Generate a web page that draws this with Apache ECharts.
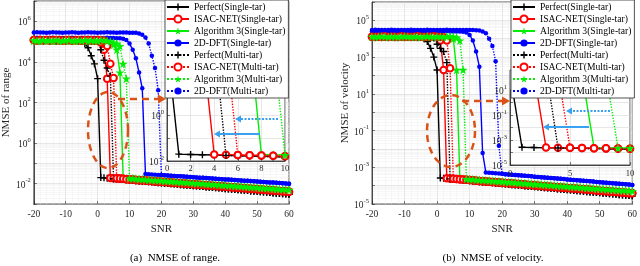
<!DOCTYPE html>
<html><head><meta charset="utf-8">
<script src="https://cdn.jsdelivr.net/npm/echarts@6/dist/echarts.min.js"></script>
<style>html,body{margin:0;padding:0;background:#fff}#c{width:640px;height:266px}</style>
</head><body><div id="c"></div><script>
const FONT = 'Liberation Serif';
const snr = [-20,-19,-18,-17,-16,-15,-14,-13,-12,-11,-10,-9,-8,-7,-6,-5,-4,-3,-2,-1,0,1,2,3,4,5,6,7,8,9,10,11,12,13,14,15,16,17,18,19,20,21,22,23,24,25,26,27,28,29,30,31,32,33,34,35,36,37,38,39,40,41,42,43,44,45,46,47,48,49,50,51,52,53,54,55,56,57,58,59,60];
const names = ['Perfect(Single-tar)','ISAC-NET(Single-tar)','Algorithm 3(Single-tar)','2D-DFT(Single-tar)','Perfect(Multi-tar)','ISAC-NET(Multi-tar)','Algorithm 3(Multi-tar)','2D-DFT(Multi-tar)'];
const rangeTicks = [-2,0,2,4,6];
const velTicks = [-5,-3,-1,1,3,5];

// ---------- NMSE of range: values before the error floor (SNR -20 ...) ----------
const rangePerfectSingleHead = [1.2e5,1.1e5,1.2e5,1.15e5,1.2e5, 1.1e5,1.2e5,1.2e5,1.1e5,1.15e5, 1.2e5,1.1e5,1.2e5,1.15e5,1.1e5, 1.0e5,8e4,5e4,2e4,8e3,1.5e3];
const rangePerfectMultiHead = [1.2e5,1.2e5,1.1e5,1.2e5,1.15e5, 1.2e5,1.2e5,1.1e5,1.2e5,1.2e5, 1.15e5,1.2e5,1.1e5,1.2e5,1.2e5, 1.15e5,1.1e5,1.2e5,1.15e5,1.1e5, 1.3e5,4e4,1.2e4,5e3,2e3];
const rangeIsacSingleHead = [1.2e5,1.15e5,1.2e5,1.1e5,1.2e5, 1.2e5,1.15e5,1.1e5,1.2e5,1.2e5, 1.1e5,1.2e5,1.15e5,1.2e5,1.1e5, 1.2e5,1.2e5,1.15e5,1.1e5,1.2e5, 1.1e5,9e4,4e4,1.5e3];
const rangeIsacMultiHead = [1.2e5,1.1e5,1.2e5,1.15e5,1.2e5, 1.1e5,1.2e5,1.2e5,1.15e5,1.1e5, 1.2e5,1.2e5,1.1e5,1.15e5,1.2e5, 1.1e5,1.2e5,1.15e5,1.2e5,1.1e5, 1.2e5,1.15e5,1.1e5,6e4,8e3,1.6e3];
const rangeAlgSingleHead = [1.1e5,1.15e5,1.1e5,1.2e5,1.1e5, 1.15e5,1.1e5,1.1e5,1.2e5,1.1e5, 1.15e5,1.1e5,1.2e5,1.1e5,1.1e5, 1.15e5,1.2e5,1.1e5,1.1e5,1.15e5, 1.1e5,1.2e5,1.1e5,1.15e5,1.0e5, 7e4,4e4,3e3];
const rangeAlgMultiHead = [1.15e5,1.1e5,1.1e5,1.2e5,1.1e5, 1.15e5,1.1e5,1.2e5,1.1e5,1.1e5, 1.15e5,1.2e5,1.1e5,1.1e5,1.15e5, 1.1e5,1.2e5,1.1e5,1.15e5,1.1e5, 1.1e5,1.2e5,1.15e5,1.1e5,1.0e5, 9e4,8e4,6e4,8e3,1.5e3];
const rangeDftSingleHead = [1.5e5,1.55e5,1.5e5,1.5e5,1.45e5, 1.5e5,1.55e5,1.5e5,1.5e5,1.45e5, 1.5e5,1.5e5,1.55e5,1.5e5,1.45e5, 1.5e5,1.5e5,1.55e5,1.5e5,1.5e5, 1.45e5,1.5e5,1.5e5,1.55e5,1.5e5, 1.5e5,1.45e5,1.45e5, 1.4e5,1.2e5,8e4,4e4,1.5e4,3e3,5e2];
const rangeDftMultiHead = [2.8e5,2.9e5,2.8e5,2.8e5,2.75e5, 2.8e5,2.9e5,2.8e5,2.8e5,2.75e5, 2.8e5,2.8e5,2.9e5,2.8e5,2.75e5, 2.8e5,2.8e5,2.9e5,2.8e5,2.8e5, 2.75e5,2.8e5,2.8e5,2.9e5,2.8e5, 2.8e5,2.75e5,2.8e5,2.8e5,2.8e5, 2.75e5,2.75e5, 2.7e5,2.5e5,2.2e5,1.6e5,8e4,2e4,5e3,4e2];
// ---------- NMSE of range: error floors (SNR 0..60; 2D-DFT from SNR 15) ----------
const rangePerfectTail = [0.0206,0.0200,0.0194,0.0188,0.0182,0.0176,0.0170,0.0165,0.0160,0.0155,0.0150,0.0145,0.0140,0.0136,0.0132,0.0128,0.0124,0.0120,0.0116,0.0112,0.0109,0.0105,0.0102,0.0099,0.0096,0.0093,0.0090,0.0087,0.0084,0.0081,0.0079,0.0076,0.0074,0.0072,0.0069,0.0067,0.0065,0.0063,0.0061,0.0059,0.0057,0.0055,0.0054,0.0052,0.0050,0.0049,0.0047,0.0046,0.0044,0.0043,0.0042,0.0040,0.0039,0.0038,0.0037,0.0035,0.0034,0.0033,0.0032,0.0031,0.0030];
const rangeIsacTail = [0.0216,0.0210,0.0204,0.0199,0.0193,0.0188,0.0183,0.0178,0.0173,0.0168,0.0163,0.0159,0.0154,0.0150,0.0146,0.0142,0.0138,0.0134,0.0130,0.0127,0.0123,0.0120,0.0117,0.0113,0.0110,0.0107,0.0104,0.0102,0.0099,0.0096,0.0093,0.0091,0.0088,0.0086,0.0084,0.0081,0.0079,0.0077,0.0075,0.0073,0.0071,0.0069,0.0067,0.0065,0.0063,0.0061,0.0060,0.0058,0.0056,0.0055,0.0053,0.0052,0.0050,0.0049,0.0048,0.0046,0.0045,0.0044,0.0043,0.0041,0.0040];
const rangeAlgTail = [0.0236,0.0230,0.0224,0.0218,0.0213,0.0207,0.0202,0.0197,0.0192,0.0187,0.0182,0.0178,0.0173,0.0169,0.0165,0.0160,0.0156,0.0152,0.0148,0.0145,0.0141,0.0137,0.0134,0.0130,0.0127,0.0124,0.0121,0.0118,0.0115,0.0112,0.0109,0.0106,0.0103,0.0101,0.0098,0.0096,0.0093,0.0091,0.0089,0.0086,0.0084,0.0082,0.0080,0.0078,0.0076,0.0074,0.0072,0.0070,0.0068,0.0067,0.0065,0.0063,0.0062,0.0060,0.0059,0.0057,0.0056,0.0054,0.0053,0.0052,0.0050];
const rangeDftTail = [0.0300,0.0293,0.0286,0.0279,0.0272,0.0266,0.0259,0.0253,0.0247,0.0241,0.0235,0.0230,0.0224,0.0219,0.0213,0.0208,0.0203,0.0198,0.0194,0.0189,0.0184,0.0180,0.0176,0.0171,0.0167,0.0163,0.0159,0.0156,0.0152,0.0148,0.0145,0.0141,0.0138,0.0134,0.0131,0.0128,0.0125,0.0122,0.0119,0.0116,0.0113,0.0110,0.0108,0.0105,0.0103,0.0100];

// ---------- NMSE of velocity: values before the error floor ----------
const velPerfectSingleHead = [1.3e4,1.25e4,1.3e4,1.35e4,1.3e4, 1.25e4,1.3e4,1.3e4,1.35e4,1.25e4, 1.3e4,1.3e4,1.25e4,1.3e4,1.35e4, 1.2e4, 1e4,7e3,3e3,1e3,2e2];
const velPerfectMultiHead = [1.3e4,1.3e4,1.25e4,1.3e4,1.35e4, 1.3e4,1.25e4,1.3e4,1.3e4,1.35e4, 1.25e4,1.3e4,1.3e4,1.25e4,1.3e4, 1.35e4,1.3e4,1.25e4,1.2e4, 1.1e4,5e3,3e3,2e3,5e2];
const velIsacSingleHead = [1.3e4,1.35e4,1.3e4,1.25e4,1.3e4, 1.3e4,1.35e4,1.25e4,1.3e4,1.3e4, 1.25e4,1.3e4,1.35e4,1.3e4,1.25e4, 1.3e4,1.3e4,1.35e4,1.25e4,1.3e4, 1.25e4, 8e3,2e2];
const velIsacMultiHead = [1.3e4,1.25e4,1.3e4,1.3e4,1.35e4, 1.25e4,1.3e4,1.3e4,1.25e4,1.35e4, 1.3e4,1.3e4,1.25e4,1.3e4,1.35e4, 1.3e4,1.25e4,1.3e4,1.3e4,1.35e4, 1.3e4,1.25e4,1.2e4, 8e3,2.5e2];
const velAlgSingleHead = [1.25e4,1.3e4,1.3e4,1.25e4,1.3e4, 1.35e4,1.3e4,1.25e4,1.3e4,1.3e4, 1.25e4,1.3e4,1.35e4,1.3e4,1.25e4, 1.3e4,1.3e4,1.25e4,1.3e4,1.35e4, 1.3e4,1.25e4,1.3e4,1.3e4,1.2e4, 1e4,2e2];
const velAlgMultiHead = [1.3e4,1.25e4,1.3e4,1.35e4,1.3e4, 1.25e4,1.3e4,1.3e4,1.25e4,1.3e4, 1.35e4,1.3e4,1.25e4,1.3e4,1.3e4, 1.25e4,1.3e4,1.35e4,1.3e4,1.25e4, 1.3e4,1.3e4,1.25e4,1.3e4,1.35e4, 1.3e4,1.2e4, 8e3,2e2];
const velDftSingleHead = [2.5e4,2.6e4,2.5e4,2.5e4,2.45e4, 2.5e4,2.6e4,2.5e4,2.5e4,2.45e4, 2.5e4,2.5e4,2.6e4,2.5e4,2.45e4, 2.5e4,2.5e4,2.6e4,2.5e4,2.5e4, 2.45e4,2.5e4,2.5e4,2.6e4,2.5e4, 2.5e4,2.45e4,2.5e4,2.4e4, 2.2e4,1.6e4,8e3,2e3,3e2,6e-3];
const velDftMultiHead = [3e4,3.1e4,3e4,3e4,2.95e4, 3e4,3.1e4,3e4,3e4,2.95e4, 3e4,3e4,3.1e4,3e4,2.95e4, 3e4,3e4,3.1e4,3e4,3e4, 2.95e4,3e4,3e4,3.1e4,3e4, 3e4,2.95e4,3e4,3e4,3e4, 2.95e4,3e4,2.9e4, 2.8e4,2.5e4,2e4,1e4,4e3,6e2,1.5e-2];
// ---------- NMSE of velocity: error floors (SNR 0..60; 2D-DFT from SNR 15) ----------
const velPerfectTail = [2.70e-4,2.60e-4,2.50e-4,2.41e-4,2.32e-4,2.24e-4,2.15e-4,2.07e-4,1.99e-4,1.92e-4,1.85e-4,1.78e-4,1.71e-4,1.65e-4,1.59e-4,1.53e-4,1.47e-4,1.42e-4,1.37e-4,1.32e-4,1.27e-4,1.22e-4,1.17e-4,1.13e-4,1.09e-4,1.05e-4,1.01e-4,9.7e-5,9.3e-5,9.0e-5,8.7e-5,8.3e-5,8.0e-5,7.7e-5,7.4e-5,7.2e-5,6.9e-5,6.6e-5,6.4e-5,6.2e-5,5.9e-5,5.7e-5,5.5e-5,5.3e-5,5.1e-5,4.9e-5,4.7e-5,4.5e-5,4.4e-5,4.2e-5,4.1e-5,3.9e-5,3.8e-5,3.6e-5,3.5e-5,3.4e-5,3.2e-5,3.1e-5,3.0e-5,2.9e-5,2.8e-5];
const velIsacTail = [2.79e-4,2.70e-4,2.61e-4,2.53e-4,2.44e-4,2.36e-4,2.29e-4,2.21e-4,2.14e-4,2.07e-4,2.00e-4,1.94e-4,1.87e-4,1.81e-4,1.75e-4,1.70e-4,1.64e-4,1.59e-4,1.54e-4,1.49e-4,1.44e-4,1.39e-4,1.35e-4,1.30e-4,1.26e-4,1.22e-4,1.18e-4,1.14e-4,1.10e-4,1.07e-4,1.03e-4,1.00e-4,9.7e-5,9.3e-5,9.0e-5,8.7e-5,8.5e-5,8.2e-5,7.9e-5,7.7e-5,7.4e-5,7.2e-5,6.9e-5,6.7e-5,6.5e-5,6.3e-5,6.1e-5,5.9e-5,5.7e-5,5.5e-5,5.3e-5,5.1e-5,5.0e-5,4.8e-5,4.7e-5,4.5e-5,4.4e-5,4.2e-5,4.1e-5,3.9e-5,3.8e-5];
const velAlgTail = [2.99e-4,2.90e-4,2.82e-4,2.73e-4,2.65e-4,2.58e-4,2.50e-4,2.43e-4,2.36e-4,2.29e-4,2.22e-4,2.16e-4,2.09e-4,2.03e-4,1.97e-4,1.91e-4,1.86e-4,1.80e-4,1.75e-4,1.70e-4,1.65e-4,1.60e-4,1.55e-4,1.51e-4,1.46e-4,1.42e-4,1.38e-4,1.34e-4,1.30e-4,1.26e-4,1.22e-4,1.19e-4,1.15e-4,1.12e-4,1.09e-4,1.05e-4,1.02e-4,9.9e-5,9.6e-5,9.4e-5,9.1e-5,8.8e-5,8.6e-5,8.3e-5,8.1e-5,7.8e-5,7.6e-5,7.4e-5,7.2e-5,7.0e-5,6.8e-5,6.6e-5,6.4e-5,6.2e-5,6.0e-5,5.8e-5,5.7e-5,5.5e-5,5.4e-5,5.2e-5,5.0e-5];
const velDftTail = [5.20e-4,5.02e-4,4.85e-4,4.69e-4,4.53e-4,4.37e-4,4.22e-4,4.08e-4,3.94e-4,3.81e-4,3.68e-4,3.55e-4,3.43e-4,3.32e-4,3.20e-4,3.09e-4,2.99e-4,2.89e-4,2.79e-4,2.69e-4,2.60e-4,2.51e-4,2.43e-4,2.35e-4,2.27e-4,2.19e-4,2.11e-4,2.04e-4,1.97e-4,1.91e-4,1.84e-4,1.78e-4,1.72e-4,1.66e-4,1.60e-4,1.55e-4,1.50e-4,1.45e-4,1.40e-4,1.35e-4,1.30e-4,1.26e-4,1.22e-4,1.18e-4,1.14e-4,1.10e-4];

// head covers SNR -20 .. ; tail array starts at SNR tailStart
function build(head, tail, tailStart) {
  const next = head.length - 20;
  return head.concat(tail.slice(next - tailStart));
}
const rangeSeries = [
  build(rangePerfectSingleHead, rangePerfectTail, 0),
  build(rangeIsacSingleHead, rangeIsacTail, 0),
  build(rangeAlgSingleHead, rangeAlgTail, 0),
  build(rangeDftSingleHead, rangeDftTail, 15),
  build(rangePerfectMultiHead, rangePerfectTail, 0),
  build(rangeIsacMultiHead, rangeIsacTail, 0),
  build(rangeAlgMultiHead, rangeAlgTail, 0),
  build(rangeDftMultiHead, rangeDftTail, 15)
];
const velSeries = [
  build(velPerfectSingleHead, velPerfectTail, 0),
  build(velIsacSingleHead, velIsacTail, 0),
  build(velAlgSingleHead, velAlgTail, 0),
  build(velDftSingleHead, velDftTail, 15),
  build(velPerfectMultiHead, velPerfectTail, 0),
  build(velIsacMultiHead, velIsacTail, 0),
  build(velAlgMultiHead, velAlgTail, 0),
  build(velDftMultiHead, velDftTail, 15)
];

const PLUS = 'path://M4,0H6V4H10V6H6V10H4V6H0V4H4Z';
const STAR = 'path://M10,0L12.25,6.91L19.51,6.91L13.63,11.18L15.88,18.09L10,13.82L4.12,18.09L6.37,11.18L0.49,6.91L7.75,6.91Z';
const looks = [
  {c:'#000000', s:PLUS, z:7, d:false},
  {c:'#FF0000', s:'emptyCircle', z:6.5, d:false},
  {c:'#00EE00', s:STAR, z:9, d:false},
  {c:'#0000FF', s:'circle', z:4.5, d:false},
  {c:'#000000', s:PLUS, z:7, d:true},
  {c:'#FF0000', s:'emptyCircle', z:6.5, d:true},
  {c:'#00EE00', s:STAR, z:9, d:true},
  {c:'#0000FF', s:'circle', z:4.5, d:true}
];

function mk(i, vals, xi, yi, z) {
  const L = looks[i];
  return {
    type:'line', name:names[i], xAxisIndex:xi, yAxisIndex:yi, z:z,
    data: snr.map((x,k)=>[x, vals[k]]),
    symbol:L.s, symbolSize:L.z, showSymbol:true, showAllSymbol:true, clip:true,
    lineStyle:{color:L.c, width:1.4, type:L.d?'dotted':'solid'},
    itemStyle:{color:L.c, borderColor:L.c, borderWidth: L.s==='emptyCircle'?1.3:0},
    emphasis:{disabled:true}, silent:true, animation:false
  };
}
const series = [];
for (let i=0;i<8;i++) series.push(mk(i, rangeSeries[i], 0, 0, 2));
for (let i=0;i<8;i++) series.push(mk(i, rangeSeries[i], 1, 1, 7));
for (let i=0;i<8;i++) series.push(mk(i, velSeries[i], 2, 2, 2));
for (let i=0;i<8;i++) series.push(mk(i, velSeries[i], 3, 3, 7));

const AX = '#262626';
function supFmt(list) {
  return function(v){
    const l = Math.log10(v), e = Math.round(l);
    if (Math.abs(l-e) > 1e-6 || list.indexOf(e) < 0) return '';
    return '{b|10}{s|' + e + '}';
  };
}
const rich = {
  b:{fontFamily:FONT, fontSize:9.5, color:AX, verticalAlign:'bottom', lineHeight:13},
  s:{fontFamily:FONT, fontSize:6.5, color:AX, verticalAlign:'top', lineHeight:13}
};
function decades(lo, hi) { const r = []; for (let e=lo; e<=hi; e++) r.push(Math.pow(10, e)); return r; }
function minors(lo, hi) { const r = []; for (let e=lo; e<hi; e++) for (let m=2; m<=9; m++) r.push(m*Math.pow(10, e)); return r; }

function yAx(grid, min, max, split, list, name, z, fs, custom) {
  const a = {
    type:'log', logBase:10, gridIndex:grid, min:min, max:max, splitNumber:split, z:z,
    axisLine:{show:true, onZero:false, lineStyle:{color:AX, width:0.8}},
    axisTick:{show:true, inside:true, length:3, lineStyle:{color:AX, width:0.6}},
    axisLabel:{formatter:supFmt(list), rich:rich, margin:3, fontSize:fs},
    splitLine:{show:true, lineStyle:{color:'#d6d6d6', width:0.6}},
    minorTick:{show:false},
    minorSplitLine:{show:false},
    name:name, nameLocation:'middle', nameGap:16,
    nameTextStyle:{fontFamily:FONT, fontSize:11, color:AX}
  };
  if (custom) {
    a.axisLabel.customValues = list.map(e => Math.pow(10, e));
    a.axisTick.customValues = custom;
  }
  return a;
}
function yMinor(grid, min, max, vals) {
  return {
    type:'log', logBase:10, gridIndex:grid, min:min, max:max, z:0,
    axisLine:{show:false}, axisLabel:{show:false},
    axisTick:{show:false, customValues:vals},
    splitLine:{show:true, lineStyle:{color:'#eeeeee', width:0.5}}
  };
}
function xAx(grid, min, max, interval, name, z, fs, margin, minor) {
  return {
    type:'value', gridIndex:grid, min:min, max:max, interval:interval, z:z,
    axisLine:{show:true, onZero:false, lineStyle:{color:AX, width:0.8}},
    axisTick:{show:true, inside:true, length:3, lineStyle:{color:AX, width:0.6}},
    axisLabel:{fontFamily:FONT, fontSize:fs, color:AX, margin:margin},
    splitLine:{show:true, lineStyle:{color:'#d6d6d6', width:0.6}},
    minorTick:{show:false, splitNumber:5},
    minorSplitLine:{show:minor, lineStyle:{color:'#eeeeee', width:0.5}},
    name:name, nameLocation:'middle', nameGap:15,
    nameTextStyle:{fontFamily:FONT, fontSize:11, color:AX}
  };
}

function ellipse(cx, cy, rx, ry) {
  const p = [];
  for (let k=0;k<=90;k++){const a=k/90*2*Math.PI; p.push([cx+rx*Math.cos(a), cy+ry*Math.sin(a)]);}
  return p;
}
const OR = '#D95319', LB = '#3AA0F0';
function leftArrow(x1, x2, y, dotted) {
  return [
    {type:'line', z:9, shape:{x1:x1, y1:y, x2:x2+5, y2:y}, style:{stroke:LB, lineWidth:2.2, lineDash: dotted?[2,1.5]:null}},
    {type:'polygon', z:9, shape:{points:[[x2,y],[x2+6,y-3.5],[x2+6,y+3.5]]}, style:{fill:LB}}
  ];
}
const graphic = [
  {type:'rect', z:5, shape:{x:167, y:70, width:118, height:91}, style:{fill:'#fff', stroke:AX, lineWidth:0.8}},
  {type:'rect', z:5, shape:{x:510, y:70, width:120, height:95}, style:{fill:'#fff', stroke:AX, lineWidth:0.8}},
  {type:'polyline', z:8, shape:{points:ellipse(108,130,20,38)}, style:{stroke:OR, lineWidth:2.5, lineDash:[7,5], fill:null}},
  {type:'line', z:8, shape:{x1:118, y1:99, x2:158, y2:99}, style:{stroke:OR, lineWidth:2.5, lineDash:[7,5]}},
  {type:'polygon', z:8, shape:{points:[[158,94.5],[166,99],[158,103.5]]}, style:{fill:OR}},
  {type:'polyline', z:8, shape:{points:ellipse(451,131,24,36)}, style:{stroke:OR, lineWidth:2.5, lineDash:[7,5], fill:null}},
  {type:'line', z:8, shape:{x1:462, y1:101, x2:502, y2:101}, style:{stroke:OR, lineWidth:2.5, lineDash:[7,5]}},
  {type:'polygon', z:8, shape:{points:[[502,96.5],[510,101],[502,105.5]]}, style:{fill:OR}},
  ...leftArrow(278, 235, 119, true),
  ...leftArrow(260, 214, 134, false),
  ...leftArrow(610, 566, 111, true),
  ...leftArrow(589, 543, 127, false),
  {type:'text', z:9, x:175, y:258, style:{text:'(a)  NMSE of range.', font:'11px "Liberation Serif"', fill:'#000', align:'center', verticalAlign:'middle'}},
  {type:'text', z:9, x:493, y:258, style:{text:'(b)  NMSE of velocity.', font:'11px "Liberation Serif"', fill:'#000', align:'center', verticalAlign:'middle'}}
];

function legend(left) {
  return {
    show:true, orient:'vertical', left:left, top:0, z:10,
    itemWidth:22, itemHeight:9, itemGap:2, padding:[2,3,2,1],
    backgroundColor:'#fff', borderColor:AX, borderWidth:0.8, borderRadius:0,
    textStyle:{fontFamily:FONT, fontSize:9.6, color:'#000'},
    data:names, selectedMode:false
  };
}

const chart = echarts.init(document.getElementById('c'), null, {renderer:'canvas'});
chart.setOption({
  animation:false,
  backgroundColor:'#fff',
  textStyle:{fontFamily:FONT},
  grid:[
    {left:30, top:1, width:259, height:203, show:true, borderColor:AX, borderWidth:0.8, backgroundColor:'transparent'},
    {left:167, top:88, width:118, height:73, show:false},
    {left:372, top:2, width:263, height:202, show:true, borderColor:AX, borderWidth:0.8, backgroundColor:'transparent'},
    {left:510, top:90, width:120, height:75, show:false}
  ],
  xAxis:[
    xAx(0, -20, 60, 10, 'SNR', 0, 9.5, 5, true),
    xAx(1, 0, 10, 2, '', 6, 8.5, 3, false),
    xAx(2, -20, 60, 10, 'SNR', 0, 9.5, 5, true),
    xAx(3, 0, 10, 5, '', 6, 8.5, 4, false)
  ],
  yAxis:[
    yAx(0, 1e-3, 1e7, 10, rangeTicks, 'NMSE of range', 1, 9.5, decades(-3, 7)),
    yAx(1, 1e-2, 15.85, 5, [-2,0], '', 6, 8.5, null),
    yAx(2, 1e-5, 1e6, 10, velTicks, 'NMSE of velocity', 1, 9.5, decades(-5, 6)),
    yAx(3, 1e-5, 10, 6, [-5,-3,-1,1], '', 6, 8.5, null),
    yMinor(0, 1e-3, 1e7, minors(-3, 7)),
    yMinor(2, 1e-5, 1e6, minors(-5, 6))
  ],
  legend:[legend(165), legend(511)],
  graphic:graphic,
  series:series
});
</script></body></html>
